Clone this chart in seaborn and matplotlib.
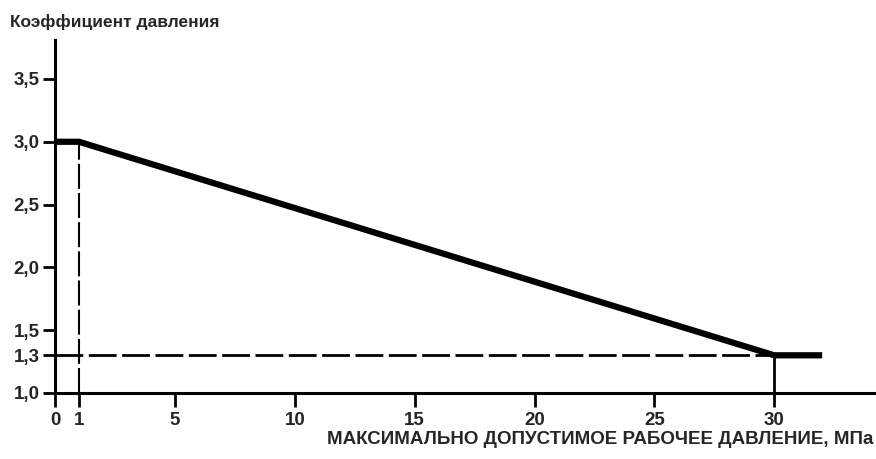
import matplotlib
matplotlib.use("Agg")
import matplotlib.pyplot as plt
import seaborn as sns
import pandas as pd

# pressure coefficient vs. max allowable working pressure
pressure = [0, 1, 30, 32]
coefficient = [3.0, 3.0, 1.3, 1.3]

# guide lines
guide_x1 = [1, 1]
guide_x1_y = [1.0, 3.0]
guide_h_x = [0, 30]
guide_h_y = [1.3, 1.3]
guide_x30 = [30, 30]
guide_x30_y = [1.0, 1.3]

x_ticks = [0, 1, 5, 10, 15, 20, 25, 30]
y_ticks = [1.0, 1.3, 1.5, 2.0, 2.5, 3.0, 3.5]
y_tick_labels = ["1,0", "1,3", "1,5", "2,0", "2,5", "3,0", "3,5"]

sns.set_style("ticks")
plt.rcParams['font.family'] = ['Liberation Sans', 'DejaVu Sans']
plt.rcParams['font.weight'] = 'bold'

fig = plt.figure(figsize=(8.76, 4.59), dpi=100)
ax = fig.add_axes([0.0628, 0.1438, 0.936, 0.769])

df = pd.DataFrame({'pressure': pressure, 'coefficient': coefficient})
sns.lineplot(data=df, x='pressure', y='coefficient', ax=ax, color='black',
             linewidth=4.5, sort=False, solid_capstyle='butt', zorder=3)

ax.plot(guide_x1, guide_x1_y, color='black', linewidth=1.5, linestyle=(0, (12, 2)))
ax.plot(guide_h_x, guide_h_y, color='black', linewidth=2, linestyle=(0, (10, 2)))
ax.plot(guide_x30, guide_x30_y, color='black', linewidth=2)

ax.set_xlim(0, 34.2)
ax.set_ylim(1.0, 3.81)
ax.set_xticks(x_ticks)
ax.set_xticklabels([str(t) for t in x_ticks])
ax.set_yticks(y_ticks)
ax.set_yticklabels(y_tick_labels)

for side in ['top', 'right']:
    ax.spines[side].set_visible(False)
for side in ['left', 'bottom']:
    ax.spines[side].set_linewidth(2.2)
    ax.spines[side].set_color('black')

ax.tick_params(axis='x', direction='out', length=10, width=2, color='black',
               labelsize=13.5, pad=4)
ax.tick_params(axis='y', direction='out', length=9, width=2, color='black',
               labelsize=13.5, pad=2)
for lbl in ax.get_xticklabels() + ax.get_yticklabels():
    lbl.set_fontweight('bold')

ax.set_xlabel('')
ax.set_ylabel('')
fig.text(0.011, 0.952, 'Коэффициент давления', fontsize=12.5, fontweight='bold',
         ha='left', va='center')
fig.text(0.997, 0.042, 'МАКСИМАЛЬНО ДОПУСТИМОЕ РАБОЧЕЕ ДАВЛЕНИЕ, МПа', fontsize=13.5,
         fontweight='bold', ha='right', va='center')

fig.savefig('out.png', dpi=100)
